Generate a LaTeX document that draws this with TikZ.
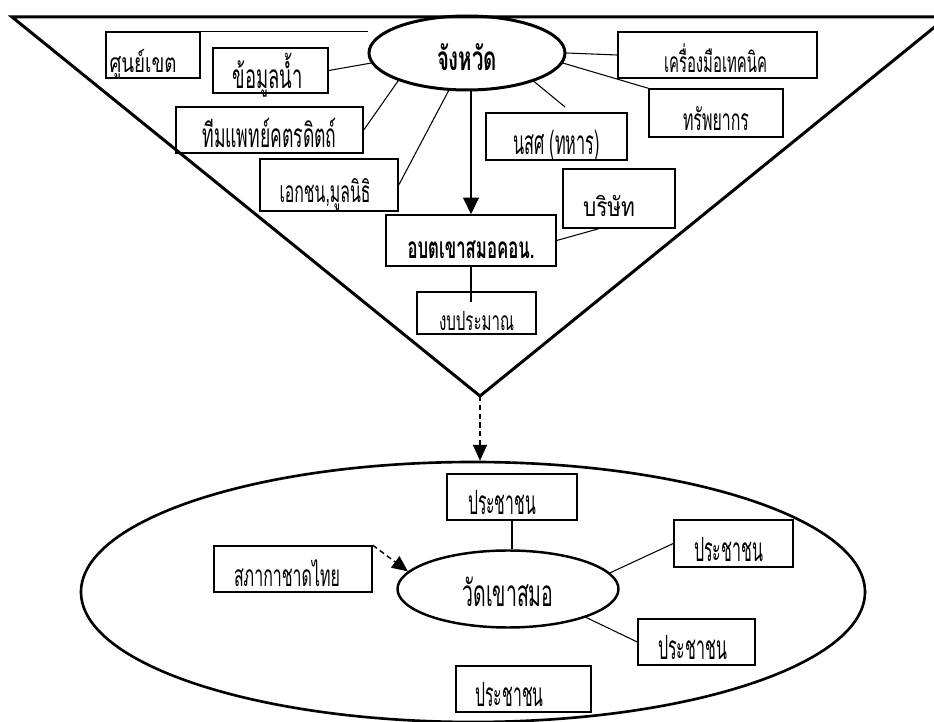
\documentclass[tikz,border=0pt]{standalone}
\usepackage{fontspec}
\usepackage{graphicx}
\setmainfont{Loma}[Script=Thai]
\usetikzlibrary{shapes.geometric, arrows.meta, calc}
\newlength\pxu
\setlength\pxu{0.02cm}
% text squeezed to a given width (in px units), optionally shifted sideways
\newcommand{\fitto}[3][0]{\hspace*{#1\pxu}\resizebox{#2\pxu}{\height}{#3}\hspace*{-#1\pxu}}
\newcommand{\fs}[1]{\fontsize{#1}{#1}\selectfont}
\begin{document}
\begin{tikzpicture}[x=0.02cm, y=-0.02cm,
  every node/.style={font=\fs{19}},
  dims/.style 2 args={minimum width=#1\pxu, minimum height=#2\pxu},
  box/.style={draw, rectangle, line width=0.85pt, inner sep=0pt, text height=20pt, text depth=0pt},
  hub/.style={draw, ellipse, line width=1.7pt, inner sep=0pt, text height=20pt, text depth=0pt},
  conn/.style={line width=0.6pt},
  vframe/.style={line width=1.7pt, line join=miter},
  solidarrow/.style={line width=0.8pt, -{Triangle[width=9pt,length=9.5pt]}},
  dasharrow/.style={line width=0.8pt, dash pattern=on 3pt off 2pt, -{Triangle[width=8pt,length=9pt]}}]

\useasboundingbox (0,0) rectangle (934,722);

% the funnel of provincial support
\coordinate (tl) at (12,17);
\coordinate (tr) at (947,17);
\coordinate (apex) at (480,396);
\draw[vframe] (tl) -- (tr) -- (apex) -- cycle;

% province and its partners
\node[hub, dims={196}{74}, font=\fs{19}\bfseries] (prov) at (467,53) {\fitto{60}{จังหวัด}};
\node[box, dims={94}{46}, font=\fs{15}] (zone) at (153,55) {\fitto[-10]{67}{ศูนย์เขต}};
\node[box, dims={115}{45}] (water) at (270.5,70.5) {\fitto[-3]{70}{ข้อมูลน้ำ}};
\node[box, dims={187}{46}] (team) at (269.5,130) {\fitto{134}{ทีมแพทย์คตรดิตถ์}};
\node[box, dims={138}{52}, font=\fs{17}] (private) at (329,185) {\fitto[-4]{91}{เอกชน,มูลนิธิ}};
\node[box, dims={141}{47}] (military) at (556.5,136.5) {\fitto{87}{นสศ (ทหาร)}};
\node[box, dims={199}{46}, font=\fs{16}] (tools) at (717.5,55) {\fitto[-2]{103}{เครื่องมือเทคนิค}};
\node[box, dims={134}{48}, font=\fs{17}] (res) at (716,113) {\fitto{66}{ทรัพยากร}};
\node[box, dims={170}{51}, font=\fs{17}\bfseries] (abt) at (471,240.5) {\fitto{127}{อบตเขาสมอคอน.}};
\node[box, dims={119}{42}, font=\fs{15}] (budget) at (476.5,313) {\fitto{75}{งบประมาณ}};
\node[box, dims={112}{59}, font=\fs{15}] (company) at (619,198.5) {\fitto[-10]{52}{บริษัท}};

\coordinate (milend) at (565,107);
\coordinate (budgetend) at (471,302);

\draw[conn] (zone.north east) -- (zone.north east -| prov.west);
\draw[conn] (water.east) -- (prov.186);
\draw[conn] (team.east) -- (prov.202);
\draw[conn] (private.east) -- (prov.244);
\draw[solidarrow] (prov.south -| abt.north) -- (abt.north);
\draw[conn] (prov.337) -- (milend);
\draw[conn] (prov.east) -- (tools.west);
\draw[conn] (prov.354) -- (res.north west);
\draw[conn] (abt.east) -- ($(company.south west)!0.32!(company.south east)$);
\draw[conn] (abt.south) -- (budgetend);

% the temple community
\node[draw, ellipse, line width=1.5pt, dims={784}{260}, inner sep=0pt] (outer) at (473,592) {};
\node[hub, line width=1.4pt, dims={221}{77}, font=\fs{21}] (wat) at (508,589) {\fitto{91}{วัดเขาสมอ}};
\node[box, dims={130}{46}] (p1) at (512,497) {\fitto[-10]{68}{ประชาชน}};
\node[box, dims={119}{47}] (p2) at (733.5,543.5) {\fitto[-5]{69}{ประชาชน}};
\node[box, dims={117}{46}] (p3) at (696.5,642) {\fitto[-4]{69}{ประชาชน}};
\node[box, dims={135}{46}] (p4) at (523.5,689) {\fitto[-14]{68}{ประชาชน}};
\node[box, dims={158}{46}, font=\fs{17}] (redcross) at (293,569) {\fitto[-6]{106}{สภากาชาดไทย}};

\draw[dasharrow] (apex) -- (apex |- outer.north);
\draw[conn] (p1.south) -- (p1.south |- wat.north);
\draw[conn] (wat.9) -- (p2.west);
\draw[conn] (wat.340) -- (p3.west);
\draw[dasharrow] (redcross.north east) -- (wat.170);
\end{tikzpicture}
\end{document}
